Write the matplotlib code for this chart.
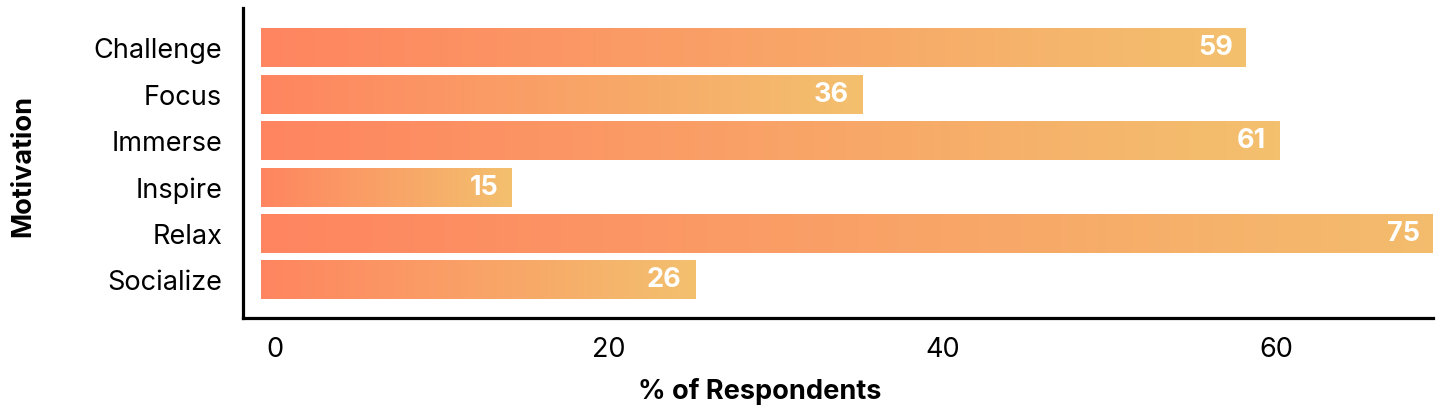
import numpy as np
import matplotlib
matplotlib.use('Agg')
import matplotlib.pyplot as plt
import matplotlib.transforms as mtransforms
from matplotlib.colors import LinearSegmentedColormap

motivations = ['Challenge', 'Focus', 'Immerse', 'Inspire', 'Relax', 'Socialize']
respondents = [59, 36, 61, 15, 75, 26]
x_ticks = [0, 20, 40, 60]

plt.rcParams['font.family'] = ['Inter', 'DejaVu Sans']

fig = plt.figure(figsize=(14.36, 4.11), dpi=100)
ax = fig.add_axes([243 / 1436, (411 - 318) / 411, (1433 - 243) / 1436, 310 / 411])

x_min, x_max = -1.08, 70.2
cmap = LinearSegmentedColormap.from_list('bar_grad', ['#FF8560', '#F3C06E'])
grad = np.linspace(0, 1, 256).reshape(1, -1)
bar_h = 0.82

# one gradient image per bar, stretched over the bar's own extent
for i, (name, val) in enumerate(zip(motivations, respondents)):
    ax.imshow(grad, cmap=cmap, aspect='auto', interpolation='bicubic',
              extent=(0, val, i + bar_h / 2, i - bar_h / 2), zorder=2)
    # label sits at the visible end of the bar (Relax is cut by the axis)
    ax.text(min(val, x_max) - 0.8, i, str(val), ha='right', va='center',
            color='white', fontsize=19.5, fontweight='bold', zorder=3)

ax.set_xlim(x_min, x_max)
ax.set_ylim(5.81, -0.87)

ax.set_yticks(range(len(motivations)))
ax.set_yticklabels(motivations)
ax.set_xticks(x_ticks)
ax.tick_params(axis='both', length=0, labelsize=19.5)
ax.tick_params(axis='y', pad=15)
ax.tick_params(axis='x', pad=14)

# x tick labels sit a bit right of the bar origin in the reference
offset = mtransforms.ScaledTranslation(14 / 100, 0, fig.dpi_scale_trans)
for lbl in ax.get_xticklabels():
    lbl.set_transform(lbl.get_transform() + offset)

ax.set_xlabel('% of Respondents', fontsize=19.5, fontweight='bold')
ax.set_ylabel('Motivation', fontsize=19.5, fontweight='bold')
ax.xaxis.set_label_coords(0.434, -0.195)
ax.yaxis.set_label_coords(-0.174, 0.49)

for side in ['top', 'right']:
    ax.spines[side].set_visible(False)
for side in ['left', 'bottom']:
    ax.spines[side].set_linewidth(2.3)

fig.savefig('out.png', dpi=100)
